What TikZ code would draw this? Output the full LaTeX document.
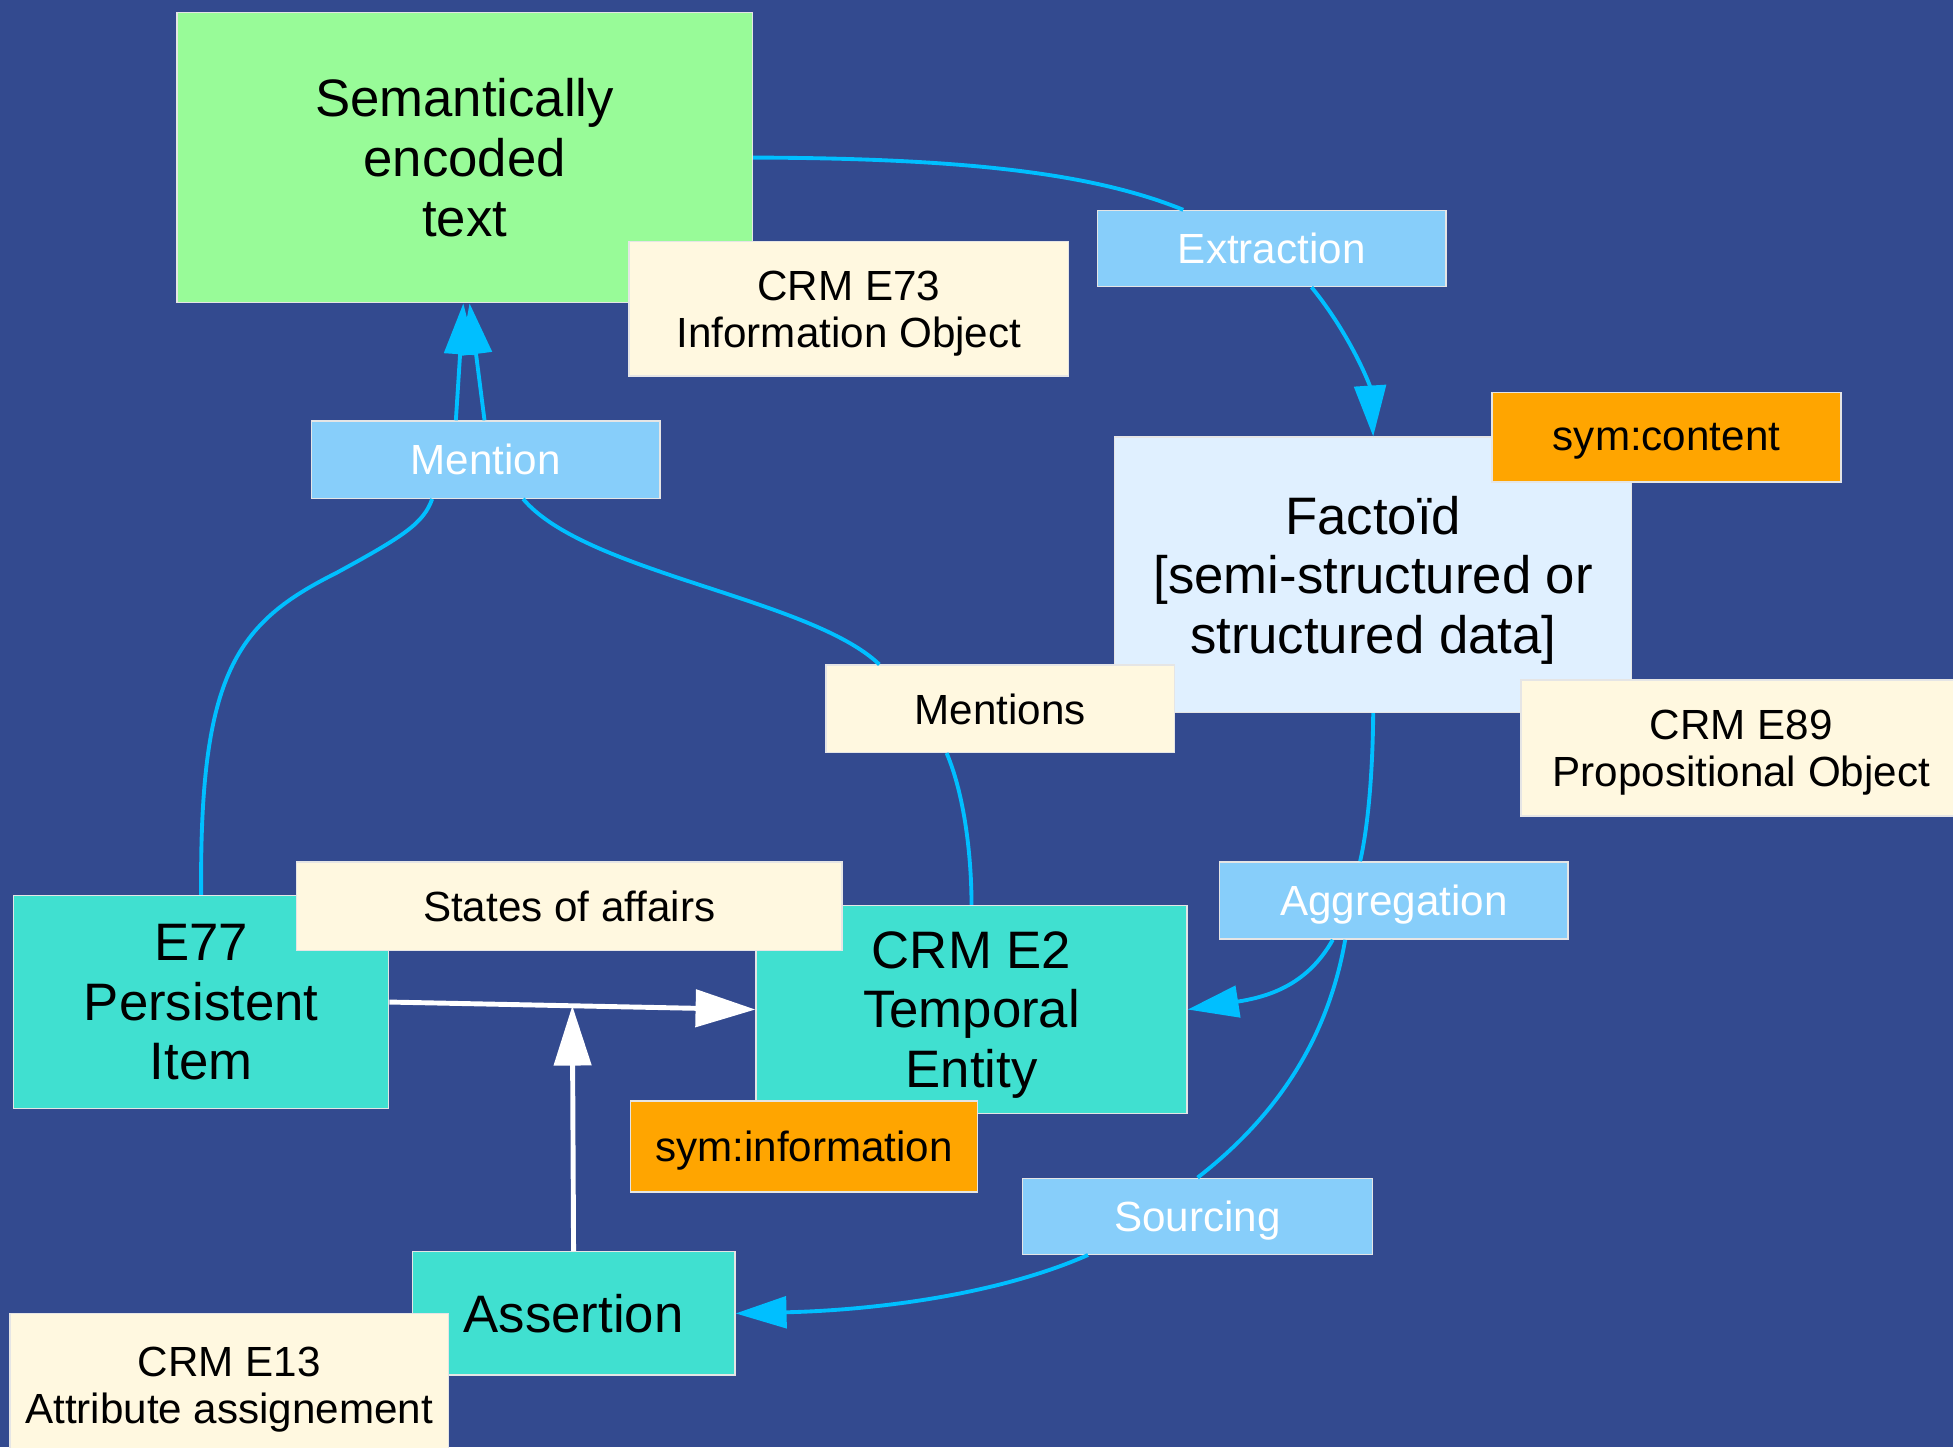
\documentclass[tikz,border=0pt]{standalone}
\usepackage{fontspec}
\setmainfont{Liberation Sans}
\usetikzlibrary{arrows.meta, calc}

\definecolor{bgblue}{RGB}{51,74,143}
\definecolor{textgreen}{RGB}{152,251,152}
\definecolor{notecream}{RGB}{255,248,224}
\definecolor{relblue}{RGB}{135,206,250}
\definecolor{symorange}{RGB}{255,165,0}
\definecolor{classturq}{RGB}{64,224,208}
\definecolor{factblue}{RGB}{224,240,255}
\definecolor{linkblue}{RGB}{0,191,255}

\newcommand{\bigfont}{\fontsize{15}{17}\selectfont}
\newcommand{\smallfont}{\fontsize{12}{13.4}\selectfont}
\def\unitpx{0.12455mm} % one unit of the grid below

\begin{document}
\begin{tikzpicture}[
    x=0.12455mm, y=-0.12455mm, % grid in pixels, y going down
    >=Triangle,
    box/.style={draw=white!80!gray, line width=0.4pt, align=center, inner sep=0pt, text depth=0pt},
    boxsize/.style 2 args={minimum width=#1*\unitpx, minimum height=#2*\unitpx},
    classbox/.style={box, fill=classturq, font=\bigfont},
    notebox/.style={box, fill=notecream, font=\smallfont},
    relbox/.style={box, fill=relblue, text=white, font=\smallfont},
    symbox/.style={box, fill=symorange, font=\smallfont},
    link/.style={linkblue, line width=1.1pt},
    linkarrow/.style={link, -{Triangle[length=14.5pt, width=9pt]}},
    statearrow/.style={white, line width=1.4pt, -{Triangle[length=17pt, width=10.5pt]}}
]

% Background
\clip (0,0) rectangle (1568,1162);
\fill[bgblue] (0,0) rectangle (1568,1162);

% Text and factoid
\node[box, fill=textgreen, font=\bigfont, boxsize={462}{233}] (sem) at (373,126.5) {Semantically\\encoded\\text};
\node[notebox, boxsize={353}{108}] (e73) at (681.5,248) {CRM E73\\Information Object};
\node[relbox, boxsize={280}{61}] (extr) at (1021,199.5) {Extraction};
\node[box, fill=factblue, font=\bigfont, boxsize={415}{221}] (fact) at (1102.5,461.5) {Facto\"id\\{}[semi-structured or\\structured data]};
\node[symbox, boxsize={280}{72}] (symc) at (1338,351) {sym:content};
\node[notebox, boxsize={354}{109}] (e89) at (1398,600.5) {CRM E89\\Propositional Object};

% Mentions
\node[relbox, boxsize={280}{62}] (ment) at (390,369) {Mention};
\node[notebox, boxsize={280}{70}] (ments) at (803,569) {Mentions};

% Classes
\node[classbox, boxsize={301}{171}] (e77) at (161.5,804.5) {E77\\Persistent\\Item};
\node[classbox, boxsize={346}{167}] (e2) at (780,810.5) {CRM E2\\Temporal\\Entity};
\node[notebox, boxsize={438}{71}] (soa) at (457,727.5) {States of affairs};
\node[symbox, boxsize={279}{73}] (symi) at (645.5,920.5) {sym:information};

% Aggregation and sourcing
\node[relbox, boxsize={280}{62}] (aggr) at (1119,723) {Aggregation};
\node[relbox, boxsize={281}{61}] (src) at (961.5,976.5) {Sourcing};
\node[classbox, boxsize={259}{99}] (asrt) at (460.5,1054.5) {Assertion};
\node[notebox, boxsize={352}{115}] (e13) at (184,1112) {CRM E13\\Attribute assignement};

% Extraction
\draw[link] (sem.east) .. controls (780,127) and (880,140) .. ($(extr.north)+(-71,0)$);
\draw[linkarrow] ($(extr.south)+(32,0)$) .. controls (1085,270) and (1100,310) .. (fact.north);

% Mention
\draw[link] (e77.north) .. controls (160,540) and (190,500) .. (270,460) .. controls (325,430) and (340,420) .. ($(ment.south)+(-43,0)$);
\draw[link] ($(ment.south)+(30,0)$) .. controls (470,460) and (650,480) .. ($(ments.north)+(-97,0)$);
\draw[link] ($(ments.south)+(-43,0)$) .. controls (775,640) and (780,690) .. (e2.north);
\draw[linkarrow] ($(ment.north)+(-24,0)$) -- ($(sem.south)+(-1,0)$);
\draw[linkarrow] ($(ment.north)+(-1,0)$) -- ($(sem.south)+(4,0)$);

% Aggregation and sourcing
\draw[link] (fact.south) .. controls (1102,630) and (1097,670) .. ($(aggr.north)+(-27,0)$);
\draw[linkarrow] ($(aggr.south)+(-49,0)$) .. controls (1050,790) and (1020,800) .. (e2.east);
\draw[link] ($(aggr.south)+(-39,0)$) .. controls (1065,840) and (1020,900) .. (src.north);
\draw[linkarrow] ($(src.south)+(-88,0)$) .. controls (800,1040) and (700,1052) .. (asrt.east);

% States of affairs
\draw[statearrow] (e77.east) -- (e2.west);
\draw[statearrow] (asrt.north) -- ($(e77.east)!0.5!(e2.west)$);

\end{tikzpicture}
\end{document}
